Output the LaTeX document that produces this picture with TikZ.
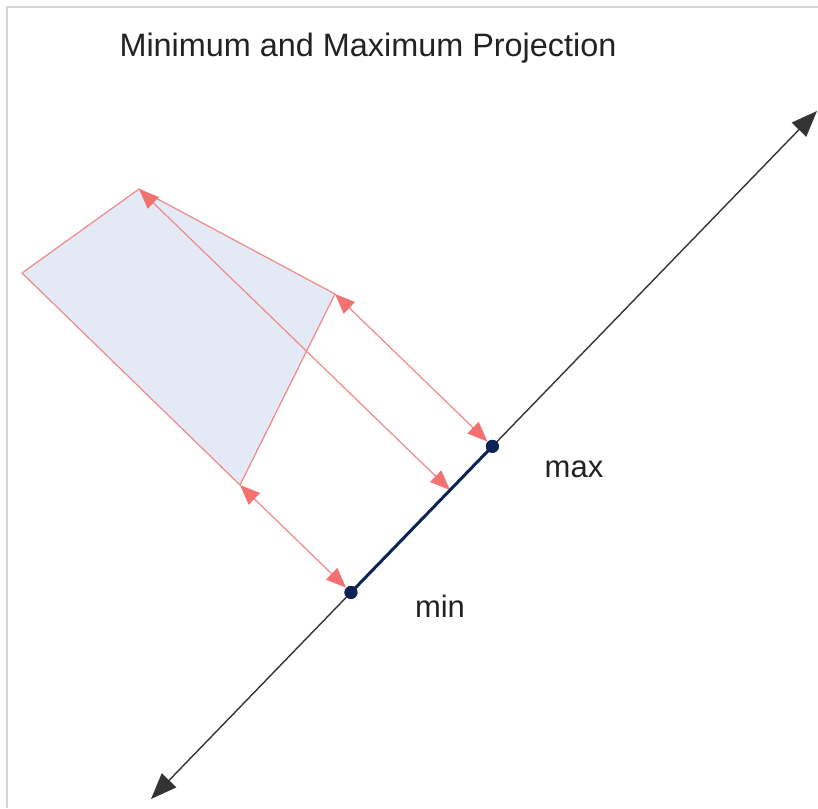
\documentclass[tikz,border=0pt]{standalone}
\usepackage{fontspec}
\setmainfont{Liberation Sans}
\usetikzlibrary{arrows.meta,calc}
\definecolor{edgered}{HTML}{F08888}
\definecolor{tipred}{HTML}{F27272}
\definecolor{shapefill}{HTML}{E3EAF5}
\definecolor{navy}{HTML}{0C2356}
\definecolor{framegray}{HTML}{D4D4D4}
\definecolor{textgray}{HTML}{222222}
\tikzset{
  polyshape/.style={draw=edgered,fill=shapefill,line width=0.6pt,line join=round},
  axisline/.style={{Triangle[length=13pt,width=10pt]}-{Triangle[length=13pt,width=10pt]},
    draw=black!80,line width=0.7pt},
  projarrow/.style={{Triangle[length=10pt,width=8pt,color=tipred]}-{Triangle[length=10pt,width=8pt,color=tipred]},
    draw=edgered,line width=0.6pt},
  segment/.style={draw=navy,line width=1.5pt},
  dot/.style={circle,fill=navy,inner sep=0pt,minimum size=6.5pt},
  lbl/.style={font=\fontsize{15.5}{18}\selectfont,text=textgray,inner sep=0pt}
}

\begin{document}
\begin{tikzpicture}[x=0.5pt,y=-0.5pt]
  \useasboundingbox (0,0) rectangle (818,808);
  % frame
  \draw[framegray,line width=1.4pt] (7,808) -- (7,7) -- (818,7);
  \node[lbl,font=\fontsize{16.2}{19}\selectfont] (title) at (368,48) {Minimum and Maximum Projection};

  % polygon
  \coordinate (pT) at (139,189);
  \coordinate (pR) at (335,294);
  \coordinate (pB) at (240,485);
  \coordinate (pL) at (22,273);
  \filldraw[polyshape] (pT) -- (pR) -- (pB) -- (pL) -- cycle;

  % axis and projections
  \coordinate (lo) at (151,799);
  \coordinate (hi) at (817,111);
  \coordinate (qtop) at ($(lo)!(pT)!(hi)$);
  \node[dot] (dmax) at ($(lo)!(pR)!(hi)$) {};
  \node[dot] (dmin) at ($(lo)!(pB)!(hi)$) {};

  \draw[projarrow] (pR) -- (dmax);
  \draw[projarrow] (pT) -- (qtop);
  \draw[projarrow] (pB) -- (dmin);

  \draw[axisline] (lo) -- (hi);
  \draw[segment] (dmin.center) -- (dmax.center);
  \node[dot] at (dmax) {};
  \node[dot] at (dmin) {};

  \node[lbl] (maxlbl) at (574,469) {max};
  \node[lbl] (minlbl) at (440,606) {min};
\end{tikzpicture}
\end{document}
